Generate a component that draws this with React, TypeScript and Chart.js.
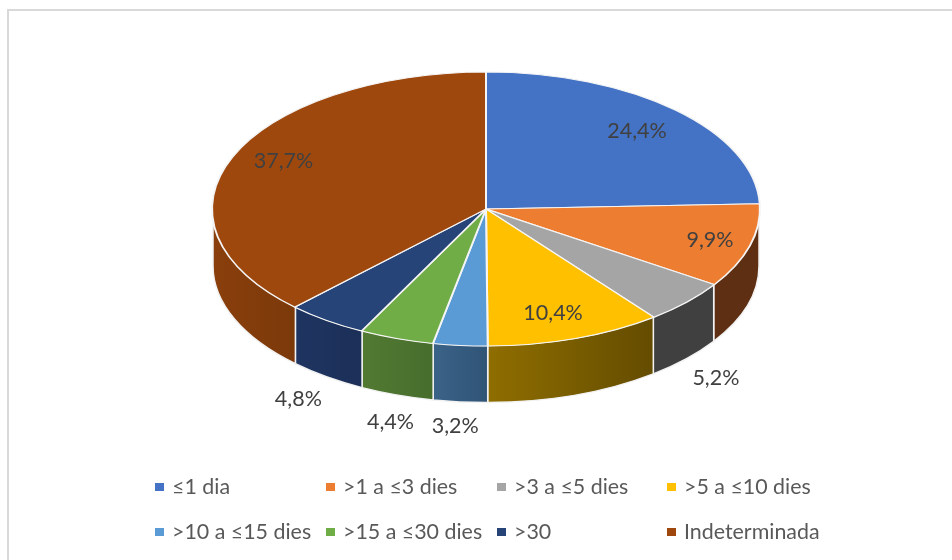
import React, { useEffect, useRef } from "react";
import { Chart, registerables } from "chart.js";

Chart.register(...registerables);

const categories = [
  "≤1 dia",
  ">1 a ≤3 dies",
  ">3 a ≤5 dies",
  ">5 a ≤10 dies",
  ">10 a ≤15 dies",
  ">15 a ≤30 dies",
  ">30",
  "Indeterminada",
];
const values = [24.4, 9.9, 5.2, 10.4, 3.2, 4.4, 4.8, 37.7];
const valueLabels = ["24,4%", "9,9%", "5,2%", "10,4%", "3,2%", "4,4%", "4,8%", "37,7%"];
const topColors = ["#4472C4", "#ED7D31", "#A5A5A5", "#FFC000", "#5B9BD5", "#70AD47", "#264478", "#9E480E"];
const wallStart = ["#2E4F8A", "#5E2F12", "#404040", "#8F6E00", "#3B6388", "#527A33", "#1F3561", "#8A3F0C"];
const wallEnd = ["#2E4F8A", "#5E2F12", "#404040", "#644C00", "#2F5476", "#476D2C", "#1B2F57", "#7B390A"];

const FONT = '"Lato", "Open Sans", sans-serif';
const TOP_CY = 209;
const SQUASH = 0.5;
const DEPTH = 57;

// where each value label sits: r = fraction of the radius, wall = below the side wall, dx/dy = nudge
const labelPlacement = [
  { r: 0.8, wall: false, dx: -1, dy: 1 },
  { r: 0.83, wall: false, dx: 5, dy: 0 },
  { r: 1, wall: true, dx: 29, dy: 19 },
  { r: 0.76, wall: false, dx: -1, dy: 6 },
  { r: 1, wall: true, dx: -5, dy: 24 },
  { r: 1, wall: true, dx: -6, dy: 27 },
  { r: 1, wall: true, dx: -28, dy: 22 },
  { r: 0.79, wall: false, dx: -2, dy: -7 },
];

const legendColumns = [155, 326, 497, 667];
const legendRows = [487, 532];

const pie3d = {
  id: "pie3d",
  beforeDraw(chart: any) {
    const ctx = chart.ctx;
    ctx.save();
    ctx.fillStyle = "#ffffff";
    ctx.fillRect(0, 0, chart.width, chart.height);
    ctx.fillStyle = "#D9D9D9";
    ctx.fillRect(7, 9, chart.width - 7, 2);
    ctx.fillRect(7, 9, 2, chart.height - 9);
    ctx.restore();
  },
  beforeDatasetsDraw(chart: any) {
    const ctx = chart.ctx;
    const arcs = chart.getDatasetMeta(0).data;
    arcs.forEach((arc: any, i: number) => {
      const a1 = Math.max(arc.startAngle, 0);
      const a2 = Math.min(arc.endAngle, Math.PI);
      if (a2 <= a1) return;
      const rx = arc.outerRadius - 1;
      const ry = rx * SQUASH;
      const x1 = arc.x + rx * Math.cos(a1);
      const x2 = arc.x + rx * Math.cos(a2);
      const grad = ctx.createLinearGradient(x1, 0, x2, 0);
      grad.addColorStop(0, wallEnd[i]);
      grad.addColorStop(1, wallStart[i]);
      ctx.save();
      ctx.beginPath();
      ctx.ellipse(arc.x, TOP_CY, rx, ry, 0, a1, a2, false);
      ctx.ellipse(arc.x, TOP_CY + DEPTH, rx, ry, 0, a2, a1, true);
      ctx.closePath();
      ctx.fillStyle = grad;
      ctx.fill();
      ctx.strokeStyle = "#F2F2F2";
      ctx.lineWidth = 1.5;
      ctx.stroke();
      ctx.restore();
    });
    const first = arcs[0];
    ctx.save();
    ctx.translate(0, TOP_CY);
    ctx.scale(1, SQUASH);
    ctx.translate(0, -first.y);
  },
  afterDatasetsDraw(chart: any) {
    const ctx = chart.ctx;
    ctx.restore();
    const arcs = chart.getDatasetMeta(0).data;

    ctx.save();
    ctx.textAlign = "center";
    ctx.textBaseline = "middle";
    ctx.font = `21.5px ${FONT}`;
    ctx.fillStyle = "#404040";
    arcs.forEach((arc: any, i: number) => {
      const p = labelPlacement[i];
      const mid = (arc.startAngle + arc.endAngle) / 2;
      const x = arc.x + arc.outerRadius * p.r * Math.cos(mid) + p.dx;
      const y = TOP_CY + arc.outerRadius * SQUASH * p.r * Math.sin(mid) + (p.wall ? DEPTH : 0) + p.dy;
      ctx.fillText(valueLabels[i], x, y);
    });

    ctx.textAlign = "left";
    ctx.font = `21.4px ${FONT}`;
    categories.forEach((name, i) => {
      const col = legendColumns[i % 4];
      const row = legendRows[Math.floor(i / 4)];
      ctx.fillStyle = topColors[i];
      ctx.fillRect(col, row - 4, 9, 8);
      ctx.fillStyle = "#595959";
      ctx.fillText(name, col + 17, row);
    });
    ctx.restore();
  },
};

export default function App() {
  const ref = useRef<HTMLCanvasElement>(null);
  useEffect(() => {
    const chart = new Chart(ref.current as HTMLCanvasElement, {
      type: "pie",
      data: {
        labels: categories,
        datasets: [
          {
            data: values,
            backgroundColor: topColors,
            borderColor: "#F5F5F5",
            borderWidth: 2,
            hoverOffset: 0,
          },
        ],
      },
      options: {
        responsive: false,
        animation: false,
        layout: { padding: { left: 20, top: 5, bottom: 5, right: 0 } },
        plugins: {
          legend: { display: false },
          tooltip: { enabled: false },
        },
      },
      plugins: [pie3d],
    } as any);
    return () => chart.destroy();
  }, []);
  return (
    <canvas
      ref={ref}
      width={952}
      height={560}
      style={{ position: "absolute", left: 0, top: 0, display: "block" }}
    />
  );
}
